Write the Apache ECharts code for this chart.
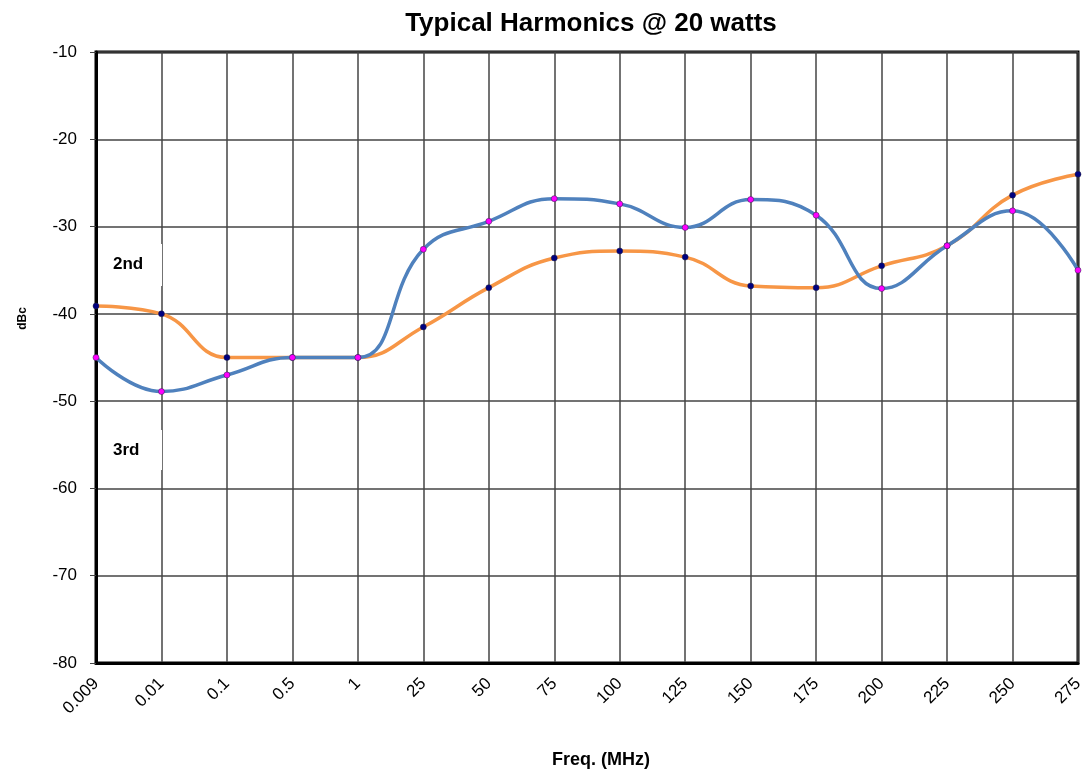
<!DOCTYPE html>
<html>
<head>
<meta charset="utf-8">
<title>Typical Harmonics @ 20 watts</title>
<script src="https://cdn.jsdelivr.net/npm/echarts@6/dist/echarts.min.js"></script>
<style>
    html, body { margin: 0; padding: 0; background: #fff; }
    #chart { width: 1090px; height: 775px; }
</style>
</head>
<body>
<div id="chart"></div>
<script>
// 频率刻度 (MHz)
var freqs = ['0.009', '0.01', '0.1', '0.5', '1', '25', '50', '75', '100', '125', '150', '175', '200', '225', '250', '275'];
// 二次谐波
var second = [-39.1, -40, -45, -45, -45, -41.5, -37, -33.6, -32.8, -33.5, -36.8, -37, -34.5, -32.2, -26.4, -24];
// 三次谐波
var third = [-45, -48.9, -47, -45, -45, -32.6, -29.4, -26.8, -27.4, -30.1, -26.9, -28.7, -37.1, -32.2, -28.2, -35];

var FONT = '"Liberation Sans", Arial, sans-serif';

function lineSeries(name, data, lineColor, dotColor) {
    return {
        name: name,
        type: 'line',
        data: data,
        smooth: 0.45,
        symbol: 'circle',
        symbolSize: 6,
        lineStyle: { color: lineColor, width: 3.5 },
        itemStyle: { color: dotColor, borderColor: '#222244', borderWidth: 0.5 },
        z: name == '2nd' ? 3 : 4
    };
}

var chart = echarts.init(document.getElementById('chart'));
chart.setOption({
    animation: false,
    backgroundColor: '#fff',
    title: {
        text: 'Typical Harmonics @ 20 watts',
        left: 586,
        top: 6,
        textAlign: 'center',
        textStyle: { fontFamily: FONT, fontSize: 26, fontWeight: 'bold', color: '#000' }
    },
    grid: {
        left: 96, top: 52, right: 12, bottom: 112,
        outerBoundsMode: 'none',
        show: true, borderColor: '#000', borderWidth: 3
    },
    xAxis: {
        type: 'category',
        data: freqs,
        boundaryGap: false,
        name: 'Freq. (MHz)',
        nameLocation: 'middle',
        nameGap: 88,
        nameTextStyle: { fontFamily: FONT, fontSize: 18, fontWeight: 'bold', color: '#000', padding: [0, 0, 0, 28] },
        axisLine: { lineStyle: { color: '#000', width: 3 } },
        axisTick: { show: false },
        axisLabel: { rotate: 45, fontFamily: FONT, fontSize: 17, color: '#000', margin: 18 },
        splitLine: { show: true, lineStyle: { color: '#444', width: 1.5 } }
    },
    yAxis: {
        type: 'value',
        min: -80,
        max: -10,
        interval: 10,
        name: 'dBc',
        nameLocation: 'middle',
        nameRotate: 90,
        nameGap: 67,
        nameTextStyle: { fontFamily: FONT, fontSize: 12, fontWeight: 'bold', color: '#000', padding: [0, 0, 0, 78] },
        axisLine: { show: true, lineStyle: { color: '#000', width: 3 } },
        axisTick: { show: true, length: 6, lineStyle: { color: '#444' } },
        axisLabel: { fontFamily: FONT, fontSize: 17, color: '#000', margin: 19 },
        splitLine: { show: true, lineStyle: { color: '#444', width: 1.5 } }
    },
    // 曲线标注
    graphic: [
        { type: 'rect', shape: { x: 104, y: 244, width: 58, height: 42 }, style: { fill: '#fff' }, z: 10 },
        { type: 'text', x: 113, y: 256, style: { text: '2nd', font: 'bold 17px ' + FONT, fill: '#000' }, z: 11 },
        { type: 'rect', shape: { x: 104, y: 430, width: 58, height: 40 }, style: { fill: '#fff' }, z: 10 },
        { type: 'text', x: 113, y: 442, style: { text: '3rd', font: 'bold 17px ' + FONT, fill: '#000' }, z: 11 }
    ],
    series: [
        lineSeries('2nd', second, '#f79646', '#000080'),
        lineSeries('3rd', third, '#4f81bd', '#ff00ff')
    ]
});
</script>
</body>
</html>
